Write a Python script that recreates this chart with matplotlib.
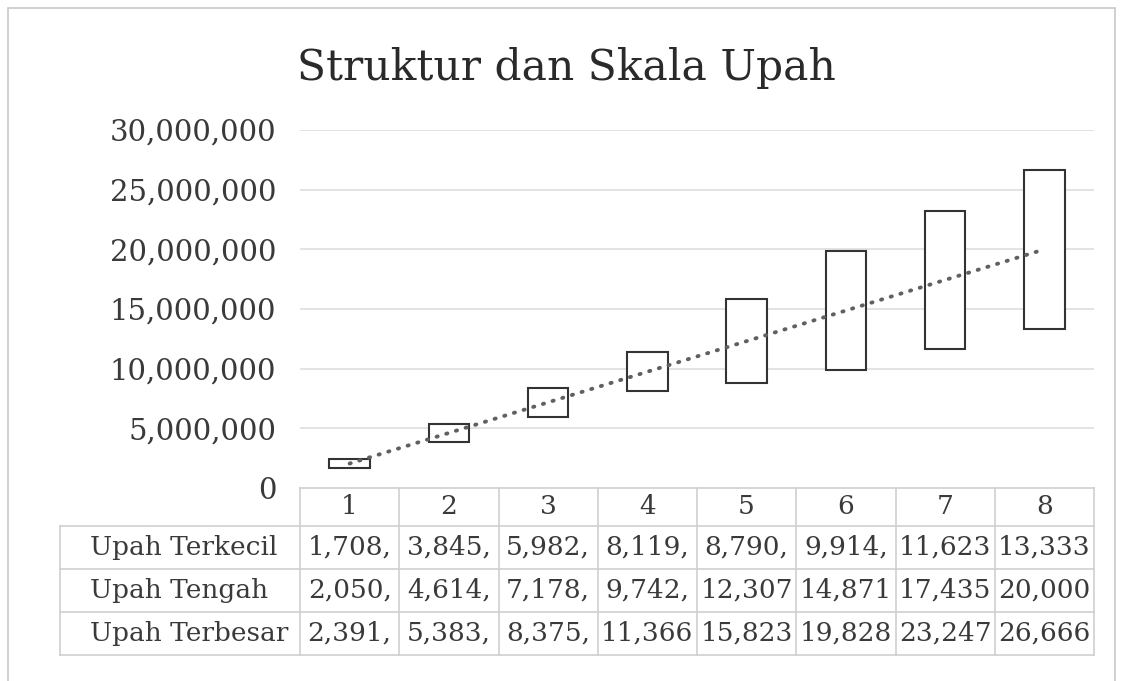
import numpy as np
import matplotlib.pyplot as plt
from matplotlib.transforms import blended_transform_factory
from matplotlib.patches import Rectangle

levels = [1, 2, 3, 4, 5, 6, 7, 8]
upah_terkecil = [1708333, 3845238, 5982143, 8119048, 8790816, 9914286, 11623810, 13333333]
upah_tengah = [2050000, 4614286, 7178571, 9742857, 12307143, 14871429, 17435714, 20000000]
upah_terbesar = [2391667, 5383333, 8375000, 11366667, 15823469, 19828571, 23247619, 26666667]
row_names = ['Upah Terkecil', 'Upah Tengah', 'Upah Terbesar']
yticks = [0, 5000000, 10000000, 15000000, 20000000, 25000000, 30000000]

plt.rcParams['font.family'] = ['DejaVu Serif']
txt = '#3a3a3a'
grid_c = '#dedede'
tab_c = '#cfcfcf'

W, H = 1122, 681
fig = plt.figure(figsize=(W / 100, H / 100), dpi=100)
fig.patch.set_facecolor('white')

# plot area placed in pixel terms
left, right, top, bottom = 300, 1094, 130, 488
ax = fig.add_axes([left / W, 1 - bottom / H, (right - left) / W, (bottom - top) / H])

x = np.array(levels)
lo = np.array(upah_terkecil)
hi = np.array(upah_terbesar)
ax.bar(x, hi - lo, bottom=lo, width=0.41, facecolor='white',
       edgecolor='#333333', linewidth=1.5, zorder=3)
ax.plot(x, upah_tengah, linestyle=(0, (0.3, 2.3)), dash_capstyle='round',
        color='#606060', linewidth=2.8, zorder=4)

ax.set_xlim(0.5, 8.5)
ax.set_ylim(0, 30000000)
ax.set_yticks(yticks)
ax.set_yticklabels([f'{v:,}' for v in yticks], fontsize=21, color=txt)
ax.tick_params(axis='y', length=0, pad=17)
ax.set_xticks([])
for s in ax.spines.values():
    s.set_visible(False)
for v in yticks[1:]:
    ax.axhline(v, color=grid_c, linewidth=1.2, zorder=1)

# data table under the plot (x in categories, y in axes fraction)
tr = blended_transform_factory(ax.transData, ax.transAxes)
ph = bottom - top
def yax(py):
    return (bottom - py) / ph

row_edges = [488, 526, 569, 612, 655]
lab_left = 0.5 - (left - 60) / ((right - left) / 8)
edges_x = np.arange(0.5, 9.0, 1.0)

ax.plot([0.5, 8.5], [yax(488)] * 2, color=tab_c, lw=1.2, transform=tr, clip_on=False)
for py in row_edges[1:]:
    ax.plot([lab_left, 8.5], [yax(py)] * 2, color=tab_c, lw=1.2, transform=tr, clip_on=False)
for ex in edges_x:
    ax.plot([ex, ex], [yax(488), yax(655)], color=tab_c, lw=1.2, transform=tr, clip_on=False)
ax.plot([lab_left, lab_left], [yax(526), yax(655)], color=tab_c, lw=1.2, transform=tr, clip_on=False)

for k in levels:
    ax.text(k, yax(507), str(k), ha='center', va='center', fontsize=19,
            color=txt, transform=tr)

series = [upah_terkecil, upah_tengah, upah_terbesar]
for r, (name, vals) in enumerate(zip(row_names, series)):
    cy = yax((row_edges[r + 1] + row_edges[r + 2]) / 2)
    ax.text(lab_left + 30 / 99.25, cy, name, ha='left', va='center',
            fontsize=19, color=txt, transform=tr)
    for k, v in zip(levels, vals):
        # Excel cuts the number to the cell width
        ax.text(k, cy, f'{v:,}'[:6], ha='center', va='center', fontsize=19,
                color=txt, transform=tr)

fig.text(0.505, 1 - 68 / H, 'Struktur dan Skala Upah', ha='center', va='center',
         fontsize=30.5, color='#2a2a2a')

# chart frame
fig.patches.append(Rectangle((8 / W, -0.05), (1115 - 8) / W, 1.05 - 8 / H,
                             transform=fig.transFigure, fill=False,
                             edgecolor='#c8c8c8', linewidth=1.2))

fig.savefig('out.png', dpi=100)
